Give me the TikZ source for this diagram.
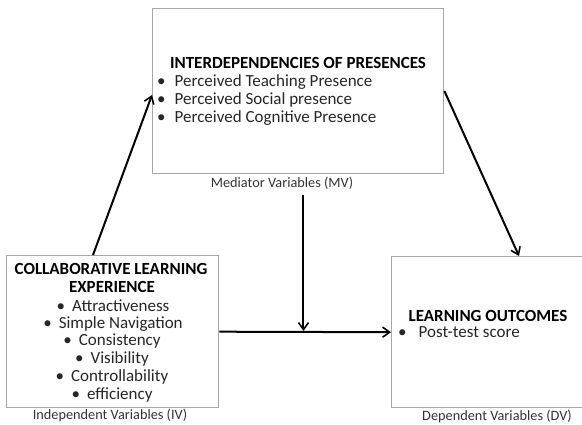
\documentclass[tikz,border=0pt]{standalone}
\usepackage{fontspec}
\setmainfont{Carlito}
\usetikzlibrary{arrows.meta,calc}
\begin{document}
\begin{tikzpicture}[x=1pt,y=-1pt,
  box/.style={draw=black!35,line width=1.4pt,inner sep=0pt,anchor=north west},
  arr/.style={line width=2pt,-{Straight Barb[length=7pt,width=10pt,line width=1.6pt]}},
  ttl/.style={font=\fontsize{17}{19}\selectfont\bfseries,inner sep=0pt},
  itm/.style={font=\fontsize{17}{19}\selectfont,text=black!85,inner sep=0pt},
  lab/.style={font=\fontsize{14.3}{16}\selectfont,text=black!80,inner sep=0pt}]
\useasboundingbox (0,0) rectangle (582,425);
\begin{scope}
\clip (0,0) rectangle (582,425);
\node[box,minimum width=291pt,minimum height=165pt] (mv) at (152,8) {};
\node[box,minimum width=212pt,minimum height=152pt] (lb) at (6,255) {};
\node[box,minimum width=200pt,minimum height=151pt] (rb) at (391,256) {};
\end{scope}
% top box text
\node[ttl] (t1) at (298,63) {INTERDEPENDENCIES OF PRESENCES};
\node[itm,anchor=west] (b1) at (157,82) {•\hspace{9pt}Perceived Teaching Presence};
\node[itm,anchor=west] (b2) at (157,100) {•\hspace{9pt}Perceived Social presence};
\node[itm,anchor=west] (b3) at (157,118) {•\hspace{9pt}Perceived Cognitive Presence};
\node[lab] (mvl) at (282,183) {Mediator Variables (MV)};
% left box text
\node[ttl] (l1) at (111,269) {COLLABORATIVE LEARNING};
\node[ttl] (l2) at (112,287) {EXPERIENCE};
\node[itm] (l3) at (113,306) {•\hspace{7pt}Attractiveness};
\node[itm] (l4) at (113,324) {•\hspace{7pt}Simple Navigation};
\node[itm] (l5) at (112,341) {•\hspace{7pt}Consistency};
\node[itm] (l6) at (112,359) {•\hspace{7pt}Visibility};
\node[itm] (l7) at (112,377) {•\hspace{7pt}Controllability};
\node[itm] (l8) at (112,395) {•\hspace{7pt}efficiency};
\node[lab] (ivl) at (110,415) {Independent Variables (IV)};
% right box text
\node[ttl] (r1) at (488,316) {LEARNING OUTCOMES};
\node[itm,anchor=west] (r2) at (398,332) {•\hspace{12pt}Post-test score};
\node[lab] (dvl) at (497,416.5) {Dependent Variables (DV)};
% arrows
\coordinate (m) at ($(lb.east)!0.49!(rb.west)$);
\draw[arr] ([xshift=87pt]lb.north west) -- ([yshift=-87pt]mv.north west);
\draw[arr] ([yshift=-83pt]mv.north east) -- ([xshift=128pt]rb.north west);
\draw[arr] (lb.east) -- (rb.west);
\draw[arr] ($(m |- mvl.south)+(0,6)$) -- ([yshift=1pt]m);
\end{tikzpicture}
\end{document}
